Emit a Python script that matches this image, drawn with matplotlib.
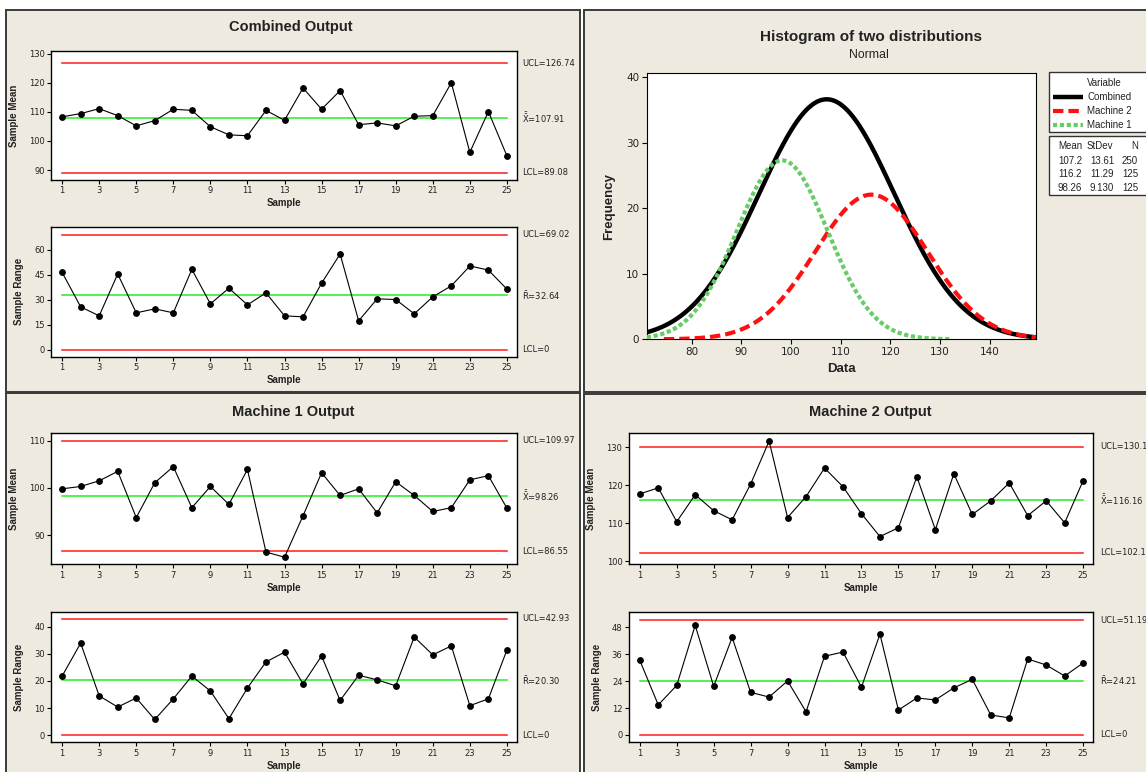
import numpy as np
import matplotlib
matplotlib.use("Agg")
import matplotlib.pyplot as plt
from matplotlib.patches import Rectangle

plt.rcParams["font.family"] = ["DejaVu Sans"]
LAB_FONT = ["Liberation Sans", "DejaVu Sans"]

W, H = 1146, 772

# ---------------------------------------------------------------------
# Data
# ---------------------------------------------------------------------
samples = np.arange(1, 26)

comb_mean = [108.3, 109.4, 111.1, 108.7, 105.2, 107.0, 110.9, 110.5, 104.9, 102.1,
             101.8, 110.5, 107.1, 118.2, 110.9, 117.3, 105.6, 106.2, 105.2, 108.5,
             108.7, 120.0, 96.1, 110.1, 94.9]
comb_range = [46.4, 25.7, 20.3, 45.4, 22.1, 24.5, 22.1, 48.2, 27.5, 36.9,
              26.9, 34.1, 20.3, 19.7, 39.9, 57.4, 17.3, 30.5, 30.1, 21.5,
              31.7, 38.3, 50.2, 47.8, 36.3]
m1_mean = [99.8, 100.3, 101.5, 103.5, 93.7, 101.1, 104.5, 95.8, 100.3, 96.5,
           103.9, 86.4, 85.3, 94.1, 103.2, 98.4, 99.8, 94.7, 101.3, 98.4,
           95.0, 95.8, 101.7, 102.6, 95.7]
m1_range = [21.8, 33.9, 14.5, 10.4, 13.7, 5.8, 13.4, 21.8, 16.3, 6.1,
            17.4, 27.0, 30.6, 18.9, 29.2, 12.8, 22.1, 20.4, 18.2, 36.2,
            29.6, 32.9, 10.9, 13.4, 31.4]
m2_mean = [117.7, 119.3, 110.4, 117.5, 113.3, 110.9, 120.3, 131.6, 111.5, 117.0,
           124.5, 119.6, 112.5, 106.5, 108.8, 122.2, 108.3, 123.0, 112.3, 115.9,
           120.6, 112.0, 115.9, 110.1, 121.2]
m2_range = [33.3, 13.4, 22.1, 48.9, 21.7, 43.5, 19.0, 16.9, 24.1, 10.3,
            35.1, 37.0, 21.3, 45.0, 11.1, 16.5, 15.6, 21.0, 24.8, 8.9,
            7.6, 33.9, 31.2, 26.3, 32.1]

# control limits: (UCL, centre, LCL)
comb_mean_lim = (126.74, 107.91, 89.08)
comb_range_lim = (69.02, 32.64, 0)
m1_mean_lim = (109.97, 98.26, 86.55)
m1_range_lim = (42.93, 20.30, 0)
m2_mean_lim = (130.14, 116.16, 102.18)
m2_range_lim = (51.19, 24.21, 0)

# fitted normal distributions
dist_names = ["Combined", "Machine 2", "Machine 1"]
dist_mean = [107.2, 116.2, 98.26]
dist_sd = [13.61, 11.29, 9.130]
dist_n = [250, 125, 125]
bin_width = 5

# ---------------------------------------------------------------------
fig = plt.figure(figsize=(W / 100, H / 100), dpi=100)
fig.patch.set_facecolor("white")


def ax_px(x0, y0, x1, y1, **kw):
    """Axes placed by pixel box (top-left origin)."""
    return fig.add_axes([x0 / W, 1 - y1 / H, (x1 - x0) / W, (y1 - y0) / H], **kw)


def pixel_canvas(z):
    a = fig.add_axes([0, 0, 1, 1], zorder=z)
    a.set_xlim(0, W)
    a.set_ylim(H, 0)
    a.axis("off")
    a.patch.set_alpha(0)
    return a


# panel backgrounds
bg = pixel_canvas(-10)
for x0, y0, x1, y1 in [(6, 10, 580, 392), (584, 10, 1150, 392),
                       (6, 393, 580, 780), (584, 394, 1150, 780)]:
    bg.add_patch(Rectangle((x0, y0), x1 - x0, y1 - y0, facecolor="#EEEAE0",
                           edgecolor="#3a3a3a", lw=1.4))

TXT = "#222222"


def control_chart(box, values, limits, ylim, yticks, ylabel, kind, ylab_x, lab_x):
    ax = ax_px(*box)
    ucl, cl, lcl = limits
    ax.plot([1, 25], [ucl, ucl], color="#FF1A1A", lw=1.1)
    ax.plot([1, 25], [lcl, lcl], color="#FF1A1A", lw=1.1)
    ax.plot([1, 25], [cl, cl], color="#22EE22", lw=1.1)
    ax.plot(samples, values, color="black", lw=0.8, marker="o", ms=3.9)
    ax.set_xlim(0.4, 25.55)
    ax.set_ylim(*ylim)
    ax.set_xticks(range(1, 26, 2))
    ax.set_yticks(yticks)
    ax.tick_params(labelsize=6, length=3, width=0.8, colors="black",
                   labelcolor=TXT, pad=1.5)
    for s in ax.spines.values():
        s.set_linewidth(1.0)
    ax.set_ylabel(ylabel, fontsize=7, fontweight="bold", color=TXT, family=LAB_FONT)
    ax.yaxis.set_label_coords(ylab_x, 0.5)
    ax.set_xlabel("Sample", fontsize=7, fontweight="bold", color=TXT, va="center",
                  family=LAB_FONT)
    ax.xaxis.set_label_coords(0.5, -0.178)

    sym = r"$\bar{\bar{\mathrm{X}}}$" if kind == "mean" else r"$\bar{\mathrm{R}}$"
    lcl_txt = "0" if lcl == 0 else f"{lcl:.2f}"
    tr = ax.get_yaxis_transform()
    kw = dict(transform=tr, fontsize=6, color=TXT, va="center", clip_on=False)
    ax.text(lab_x, ucl, f"UCL={ucl:.2f}", **kw)
    ax.text(lab_x, cl, f"{sym}={cl:.2f}", **kw)
    ax.text(lab_x, lcl, f"LCL={lcl_txt}", **kw)
    return ax


LEFT = (51, 517.1)
RIGHT = (628.7, 1093.3)

# Combined output
control_chart((LEFT[0], 51, LEFT[1], 180), comb_mean, comb_mean_lim, (86.6, 130.9),
              [90, 100, 110, 120, 130], "Sample Mean", "mean", -0.068, 1.011)
control_chart((LEFT[0], 226.7, LEFT[1], 357), comb_range, comb_range_lim, (-4.4, 73.8),
              [0, 15, 30, 45, 60], "Sample Range", "range", -0.058, 1.011)
# Machine 1
control_chart((LEFT[0], 432.7, LEFT[1], 564.3), m1_mean, m1_mean_lim, (83.8, 111.7),
              [90, 100, 110], "Sample Mean", "mean", -0.068, 1.011)
control_chart((LEFT[0], 611.7, LEFT[1], 742.3), m1_range, m1_range_lim, (-2.6, 45.5),
              [0, 10, 20, 30, 40], "Sample Range", "range", -0.058, 1.011)
# Machine 2
control_chart((RIGHT[0], 432.7, RIGHT[1], 564.3), m2_mean, m2_mean_lim, (99.2, 133.8),
              [100, 110, 120, 130], "Sample Mean", "mean", -0.070, 1.014)
control_chart((RIGHT[0], 611.7, RIGHT[1], 742.3), m2_range, m2_range_lim, (-3.3, 55.0),
              [0, 12, 24, 36, 48], "Sample Range", "range", -0.058, 1.014)

# ---------------------------------------------------------------------
# Histogram fits
# ---------------------------------------------------------------------
hx_lo, hx_hi = 71.0, 149.3
hax = ax_px(646.8, 72.7, 1035.9, 339.3)
styles = {
    "Combined": dict(color="black", lw=3.2, dashes=(None, None), zorder=2),
    "Machine 2": dict(color="#FF1010", lw=3.0, dashes=(2.5, 1.2), zorder=3),
    "Machine 1": dict(color="#66CC66", lw=3.0, dashes=(1.0, 0.65), zorder=4),
}
for name, mu, sd, n in zip(dist_names, dist_mean, dist_sd, dist_n):
    lo = max(mu - 3.7 * sd, hx_lo)
    hi = min(mu + 3.7 * sd, hx_hi)
    xs = np.linspace(lo, hi, 400)
    ys = n * bin_width * np.exp(-0.5 * ((xs - mu) / sd) ** 2) / (sd * np.sqrt(2 * np.pi))
    hax.plot(xs, ys, **styles[name])
hax.set_xlim(hx_lo, hx_hi)
hax.set_ylim(0, 40.7)
hax.set_xticks(range(80, 150, 10))
hax.set_yticks(range(0, 41, 10))
hax.tick_params(labelsize=7.5, length=3.5, width=0.8, labelcolor=TXT, pad=2)
hax.set_xlabel("Data", fontsize=9.5, fontweight="bold", color=TXT, va="center",
               family=LAB_FONT)
hax.xaxis.set_label_coords(0.5, -0.112)
hax.set_ylabel("Frequency", fontsize=9.5, fontweight="bold", color=TXT, va="center",
               family=LAB_FONT)
hax.yaxis.set_label_coords(-0.096, 0.5)

# ---------------------------------------------------------------------
# Titles, legend and summary table (pixel coordinates)
# ---------------------------------------------------------------------
ov = pixel_canvas(10)
tkw = dict(fontweight="bold", ha="center", va="center", color=TXT, family=LAB_FONT)
ov.text(291, 27, "Combined Output", fontsize=10.5, **tkw)
ov.text(293, 412, "Machine 1 Output", fontsize=10.5, **tkw)
ov.text(870.5, 412, "Machine 2 Output", fontsize=10.5, **tkw)
ov.text(871, 37.5, "Histogram of two distributions", fontsize=11, **tkw)
ov.text(869, 54.5, "Normal", fontsize=8.8, ha="center", va="center", color=TXT,
        family=LAB_FONT)

ov.add_patch(Rectangle((1048.7, 72.3), 110, 59.4, facecolor="white", edgecolor="#333333", lw=1))
ov.add_patch(Rectangle((1048.7, 135.7), 110, 59.3, facecolor="white", edgecolor="#333333", lw=1))
lkw = dict(fontsize=7, va="center", color=TXT, family=LAB_FONT)
ov.text(1087, 83, "Variable", **lkw)
for i, name in enumerate(dist_names):
    y = 97 + 14 * i
    st = {k: v for k, v in styles[name].items() if k != "zorder"}
    ov.plot([1053, 1083], [y, y], solid_capstyle="butt", **st)
    ov.text(1087, y, name, **lkw)

ov.text(1070, 146, "Mean", ha="center", **lkw)
ov.text(1100, 146, "StDev", ha="center", **lkw)
ov.text(1138, 146, "N", ha="right", **lkw)
for i, (mu, sd, n) in enumerate(zip(dist_mean, dist_sd, dist_n)):
    y = 160.5 + 13.6 * i
    ov.text(1070, y, f"{mu:#.4g}", ha="center", **lkw)
    ov.text(1102, y, f"{sd:#.4g}", ha="center", **lkw)
    ov.text(1138, y, f"{n}", ha="right", **lkw)

fig.savefig("out.png", dpi=100)
